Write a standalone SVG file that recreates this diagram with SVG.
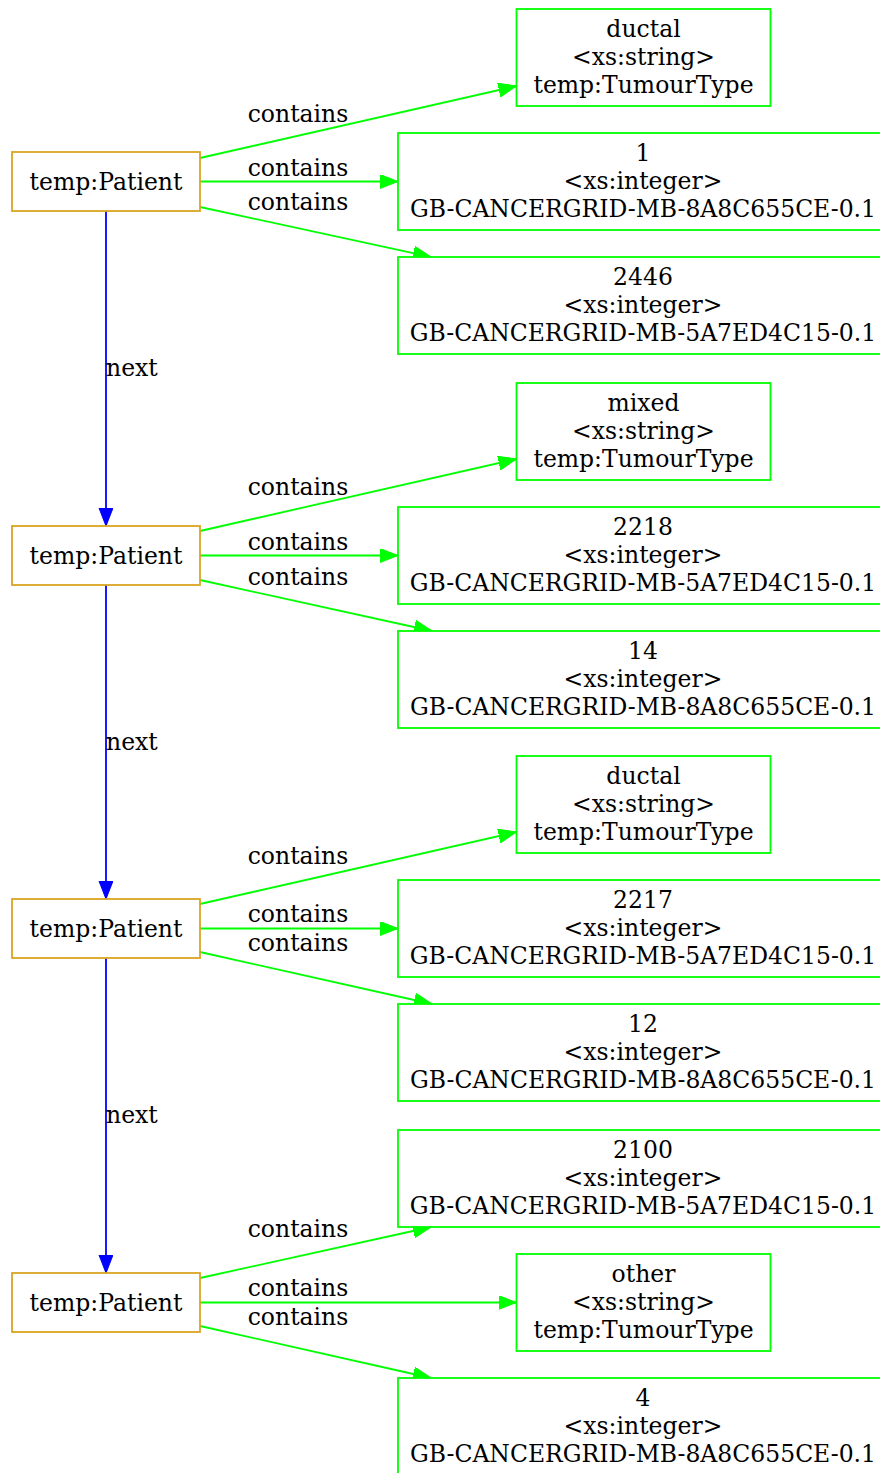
<svg xmlns="http://www.w3.org/2000/svg" width="880" height="1473" viewBox="0 0 880 1473">
<style>
text{font-family:"DejaVu Serif","Liberation Serif",serif;font-size:23.5px;fill:#000;text-anchor:middle}
.pat{fill:#fff;stroke:#DAA520;stroke-width:1.8}
.lit{fill:#fff;stroke:#00FF00;stroke-width:1.8}
.ce{fill:none;stroke:#00FF00;stroke-width:1.8}
.ne{fill:none;stroke:#0000FF;stroke-width:1.8}
.nl{text-anchor:start}
</style>
<defs>
<marker id="ag" markerUnits="userSpaceOnUse" markerWidth="20" markerHeight="16" refX="18" refY="7" orient="auto"><path d="M0,0 L18,7 L0,14 z" fill="#00FF00" stroke="#00FF00" stroke-width="1"/></marker>
<marker id="ab" markerUnits="userSpaceOnUse" markerWidth="20" markerHeight="16" refX="18" refY="7" orient="auto"><path d="M0,0 L18,7 L0,14 z" fill="#0000FF" stroke="#0000FF" stroke-width="1"/></marker>
</defs>
<rect width="880" height="1473" fill="#fff"/>
<g id="connectors">
<path class="ne" d="M106,211 L106,526" marker-end="url(#ab)"/>
<text class="nl" x="106" y="376">next</text>
<path class="ne" d="M106,585 L106,899" marker-end="url(#ab)"/>
<text class="nl" x="106" y="750">next</text>
<path class="ne" d="M106,958 L106,1273" marker-end="url(#ab)"/>
<text class="nl" x="106" y="1123">next</text>
<path class="ce" d="M200,158 L516.5,86" marker-end="url(#ag)"/>
<text x="298" y="122">contains</text>
<path class="ce" d="M200,181.5 L398,181.5" marker-end="url(#ag)"/>
<text x="298" y="176">contains</text>
<path class="ce" d="M200,207 L431,257" marker-end="url(#ag)"/>
<text x="298" y="210">contains</text>
<path class="ce" d="M200,531 L516.5,459" marker-end="url(#ag)"/>
<text x="298" y="495">contains</text>
<path class="ce" d="M200,555.5 L398,555.5" marker-end="url(#ag)"/>
<text x="298" y="550">contains</text>
<path class="ce" d="M200,580 L432,631" marker-end="url(#ag)"/>
<text x="298" y="585">contains</text>
<path class="ce" d="M200,904 L516.5,832" marker-end="url(#ag)"/>
<text x="298" y="864">contains</text>
<path class="ce" d="M200,928.5 L398,928.5" marker-end="url(#ag)"/>
<text x="298" y="922">contains</text>
<path class="ce" d="M200,952 L432,1004" marker-end="url(#ag)"/>
<text x="298" y="951">contains</text>
<path class="ce" d="M200,1278 L431,1227" marker-end="url(#ag)"/>
<text x="298" y="1237">contains</text>
<path class="ce" d="M200,1302.5 L516.5,1302.5" marker-end="url(#ag)"/>
<text x="298" y="1296">contains</text>
<path class="ce" d="M200,1326 L431,1378" marker-end="url(#ag)"/>
<text x="298" y="1325">contains</text>
</g>
<g id="patient1"><rect class="pat" x="12" y="152" width="188" height="59"/><text x="106" y="190">temp:Patient</text></g>
<g id="patient2"><rect class="pat" x="12" y="526" width="188" height="59"/><text x="106" y="564">temp:Patient</text></g>
<g id="patient3"><rect class="pat" x="12" y="899" width="188" height="59"/><text x="106" y="937">temp:Patient</text></g>
<g id="patient4"><rect class="pat" x="12" y="1273" width="188" height="59"/><text x="106" y="1311">temp:Patient</text></g>

<g id="lit_ductal1"><rect class="lit" x="516.5" y="9" width="254" height="97"/><text x="643.5" y="36.5">ductal</text><text x="643.5" y="64.5">&lt;xs:string&gt;</text><text x="643.5" y="92.5">temp:TumourType</text></g>
<g id="lit_1"><rect class="lit" x="398" y="133" width="490" height="97"/><text x="643" y="160.5">1</text><text x="643" y="188.5">&lt;xs:integer&gt;</text><text x="643" y="216.5">GB-CANCERGRID-MB-8A8C655CE-0.1</text></g>
<g id="lit_2446"><rect class="lit" x="398" y="257" width="490" height="97"/><text x="643" y="284.5">2446</text><text x="643" y="312.5">&lt;xs:integer&gt;</text><text x="643" y="340.5">GB-CANCERGRID-MB-5A7ED4C15-0.1</text></g>

<g id="lit_mixed"><rect class="lit" x="516.5" y="383" width="254" height="97"/><text x="643.5" y="410.5">mixed</text><text x="643.5" y="438.5">&lt;xs:string&gt;</text><text x="643.5" y="466.5">temp:TumourType</text></g>
<g id="lit_2218"><rect class="lit" x="398" y="507" width="490" height="97"/><text x="643" y="534.5">2218</text><text x="643" y="562.5">&lt;xs:integer&gt;</text><text x="643" y="590.5">GB-CANCERGRID-MB-5A7ED4C15-0.1</text></g>
<g id="lit_14"><rect class="lit" x="398" y="631" width="490" height="97"/><text x="643" y="658.5">14</text><text x="643" y="686.5">&lt;xs:integer&gt;</text><text x="643" y="714.5">GB-CANCERGRID-MB-8A8C655CE-0.1</text></g>

<g id="lit_ductal2"><rect class="lit" x="516.5" y="756" width="254" height="97"/><text x="643.5" y="783.5">ductal</text><text x="643.5" y="811.5">&lt;xs:string&gt;</text><text x="643.5" y="839.5">temp:TumourType</text></g>
<g id="lit_2217"><rect class="lit" x="398" y="880" width="490" height="97"/><text x="643" y="907.5">2217</text><text x="643" y="935.5">&lt;xs:integer&gt;</text><text x="643" y="963.5">GB-CANCERGRID-MB-5A7ED4C15-0.1</text></g>
<g id="lit_12"><rect class="lit" x="398" y="1004" width="490" height="97"/><text x="643" y="1031.5">12</text><text x="643" y="1059.5">&lt;xs:integer&gt;</text><text x="643" y="1087.5">GB-CANCERGRID-MB-8A8C655CE-0.1</text></g>

<g id="lit_2100"><rect class="lit" x="398" y="1130" width="490" height="97"/><text x="643" y="1157.5">2100</text><text x="643" y="1185.5">&lt;xs:integer&gt;</text><text x="643" y="1213.5">GB-CANCERGRID-MB-5A7ED4C15-0.1</text></g>
<g id="lit_other"><rect class="lit" x="516.5" y="1254" width="254" height="97"/><text x="643.5" y="1281.5">other</text><text x="643.5" y="1309.5">&lt;xs:string&gt;</text><text x="643.5" y="1337.5">temp:TumourType</text></g>
<g id="lit_4"><rect class="lit" x="398" y="1378" width="490" height="97"/><text x="643" y="1405.5">4</text><text x="643" y="1433.5">&lt;xs:integer&gt;</text><text x="643" y="1461.5">GB-CANCERGRID-MB-8A8C655CE-0.1</text></g>
</svg>
